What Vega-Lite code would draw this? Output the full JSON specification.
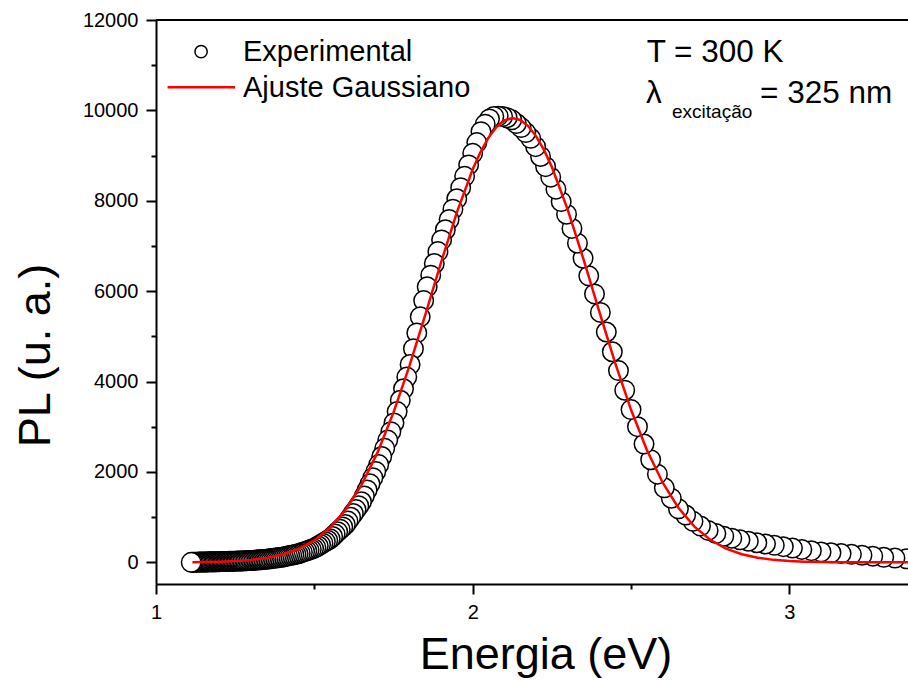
{
  "$schema": "https://vega.github.io/schema/vega-lite/v6.json",
  "autosize": "none",
  "width": 752,
  "height": 564,
  "padding": {"left": 156, "top": 20, "right": 0, "bottom": 97},
  "background": "white",
  "config": {
    "view": {"stroke": null},
    "font": "Liberation Sans",
    "axis": {
      "grid": false,
      "domainColor": "black",
      "domainWidth": 2,
      "tickColor": "black",
      "tickWidth": 2,
      "labelColor": "black",
      "labelFont": "Liberation Sans",
      "labelFontSize": 20,
      "titleColor": "black",
      "titleFont": "Liberation Sans",
      "titleFontWeight": "normal",
      "titleFontSize": 45
    }
  },
  "datasets": {
    "experimental": [
      {"E": 3.4066, "PL": 62}, {"E": 3.3696, "PL": 77}, {"E": 3.3333, "PL": 93}, {"E": 3.2979, "PL": 111},
      {"E": 3.2632, "PL": 136}, {"E": 3.2292, "PL": 157}, {"E": 3.1959, "PL": 177}, {"E": 3.1633, "PL": 193},
      {"E": 3.1313, "PL": 211}, {"E": 3.1000, "PL": 230}, {"E": 3.0693, "PL": 258}, {"E": 3.0392, "PL": 286},
      {"E": 3.0097, "PL": 315}, {"E": 2.9808, "PL": 346}, {"E": 2.9524, "PL": 377}, {"E": 2.9245, "PL": 405},
      {"E": 2.8972, "PL": 433}, {"E": 2.8704, "PL": 466}, {"E": 2.8440, "PL": 498}, {"E": 2.8182, "PL": 535},
      {"E": 2.7928, "PL": 577}, {"E": 2.7679, "PL": 637}, {"E": 2.7434, "PL": 706}, {"E": 2.7193, "PL": 803},
      {"E": 2.6957, "PL": 906}, {"E": 2.6724, "PL": 1046}, {"E": 2.6496, "PL": 1184}, {"E": 2.6271, "PL": 1418},
      {"E": 2.6050, "PL": 1648}, {"E": 2.5833, "PL": 1951}, {"E": 2.5620, "PL": 2270}, {"E": 2.5410, "PL": 2617},
      {"E": 2.5203, "PL": 3002}, {"E": 2.5000, "PL": 3380}, {"E": 2.4800, "PL": 3808}, {"E": 2.4603, "PL": 4242},
      {"E": 2.4409, "PL": 4659}, {"E": 2.4219, "PL": 5096}, {"E": 2.4031, "PL": 5529}, {"E": 2.3846, "PL": 5939},
      {"E": 2.3664, "PL": 6339}, {"E": 2.3485, "PL": 6728}, {"E": 2.3308, "PL": 7061}, {"E": 2.3134, "PL": 7388},
      {"E": 2.2963, "PL": 7702}, {"E": 2.2794, "PL": 7981}, {"E": 2.2628, "PL": 8257}, {"E": 2.2464, "PL": 8522},
      {"E": 2.2302, "PL": 8754}, {"E": 2.2143, "PL": 8980}, {"E": 2.1986, "PL": 9197}, {"E": 2.1831, "PL": 9383},
      {"E": 2.1678, "PL": 9509}, {"E": 2.1528, "PL": 9619}, {"E": 2.1379, "PL": 9709}, {"E": 2.1233, "PL": 9791},
      {"E": 2.1088, "PL": 9838}, {"E": 2.0946, "PL": 9864}, {"E": 2.0805, "PL": 9873}, {"E": 2.0667, "PL": 9867},
      {"E": 2.0530, "PL": 9812}, {"E": 2.0395, "PL": 9695}, {"E": 2.0261, "PL": 9529}, {"E": 2.0130, "PL": 9288},
      {"E": 2.0000, "PL": 9050}, {"E": 1.9872, "PL": 8794}, {"E": 1.9745, "PL": 8540}, {"E": 1.9620, "PL": 8290},
      {"E": 1.9497, "PL": 8044}, {"E": 1.9375, "PL": 7813}, {"E": 1.9255, "PL": 7585}, {"E": 1.9136, "PL": 7358},
      {"E": 1.9018, "PL": 7134}, {"E": 1.8902, "PL": 6875}, {"E": 1.8788, "PL": 6612}, {"E": 1.8675, "PL": 6353},
      {"E": 1.8563, "PL": 6095}, {"E": 1.8452, "PL": 5792}, {"E": 1.8343, "PL": 5432}, {"E": 1.8235, "PL": 5076},
      {"E": 1.8129, "PL": 4726}, {"E": 1.8023, "PL": 4376}, {"E": 1.7919, "PL": 4098}, {"E": 1.7816, "PL": 3840},
      {"E": 1.7714, "PL": 3585}, {"E": 1.7614, "PL": 3335}, {"E": 1.7514, "PL": 3085}, {"E": 1.7416, "PL": 2890},
      {"E": 1.7318, "PL": 2704}, {"E": 1.7222, "PL": 2522}, {"E": 1.7127, "PL": 2341}, {"E": 1.7033, "PL": 2163},
      {"E": 1.6940, "PL": 2010}, {"E": 1.6848, "PL": 1872}, {"E": 1.6757, "PL": 1736}, {"E": 1.6667, "PL": 1601},
      {"E": 1.6578, "PL": 1467}, {"E": 1.6489, "PL": 1339}, {"E": 1.6402, "PL": 1252}, {"E": 1.6316, "PL": 1166},
      {"E": 1.6230, "PL": 1080}, {"E": 1.6146, "PL": 996}, {"E": 1.6062, "PL": 912}, {"E": 1.5979, "PL": 836},
      {"E": 1.5897, "PL": 782}, {"E": 1.5816, "PL": 729}, {"E": 1.5736, "PL": 678}, {"E": 1.5657, "PL": 624},
      {"E": 1.5578, "PL": 571}, {"E": 1.5500, "PL": 520}, {"E": 1.5423, "PL": 488}, {"E": 1.5347, "PL": 456},
      {"E": 1.5271, "PL": 424}, {"E": 1.5196, "PL": 392}, {"E": 1.5122, "PL": 361}, {"E": 1.5049, "PL": 331},
      {"E": 1.4976, "PL": 304}, {"E": 1.4904, "PL": 287}, {"E": 1.4833, "PL": 270}, {"E": 1.4762, "PL": 253},
      {"E": 1.4692, "PL": 236}, {"E": 1.4623, "PL": 220}, {"E": 1.4554, "PL": 203}, {"E": 1.4486, "PL": 188},
      {"E": 1.4419, "PL": 178}, {"E": 1.4352, "PL": 168}, {"E": 1.4286, "PL": 158}, {"E": 1.4220, "PL": 148},
      {"E": 1.4155, "PL": 138}, {"E": 1.4091, "PL": 129}, {"E": 1.4027, "PL": 119}, {"E": 1.3964, "PL": 111},
      {"E": 1.3901, "PL": 105}, {"E": 1.3839, "PL": 100}, {"E": 1.3778, "PL": 94}, {"E": 1.3717, "PL": 88},
      {"E": 1.3656, "PL": 83}, {"E": 1.3596, "PL": 77}, {"E": 1.3537, "PL": 71}, {"E": 1.3478, "PL": 67},
      {"E": 1.3420, "PL": 64}, {"E": 1.3362, "PL": 60}, {"E": 1.3305, "PL": 57}, {"E": 1.3248, "PL": 54},
      {"E": 1.3191, "PL": 51}, {"E": 1.3136, "PL": 48}, {"E": 1.3080, "PL": 44}, {"E": 1.3025, "PL": 41},
      {"E": 1.2971, "PL": 39}, {"E": 1.2917, "PL": 38}, {"E": 1.2863, "PL": 36}, {"E": 1.2810, "PL": 34},
      {"E": 1.2757, "PL": 33}, {"E": 1.2705, "PL": 31}, {"E": 1.2653, "PL": 30}, {"E": 1.2602, "PL": 28},
      {"E": 1.2551, "PL": 27}, {"E": 1.2500, "PL": 25}, {"E": 1.2450, "PL": 24}, {"E": 1.2400, "PL": 23},
      {"E": 1.2351, "PL": 22}, {"E": 1.2302, "PL": 21}, {"E": 1.2253, "PL": 20}, {"E": 1.2205, "PL": 19},
      {"E": 1.2157, "PL": 18}, {"E": 1.2109, "PL": 17}, {"E": 1.2062, "PL": 16}, {"E": 1.2016, "PL": 15},
      {"E": 1.1969, "PL": 15}, {"E": 1.1923, "PL": 14}, {"E": 1.1877, "PL": 13}, {"E": 1.1832, "PL": 13},
      {"E": 1.1787, "PL": 12}, {"E": 1.1742, "PL": 11}, {"E": 1.1698, "PL": 11}, {"E": 1.1654, "PL": 10},
      {"E": 1.1610, "PL": 9}, {"E": 1.1567, "PL": 9}, {"E": 1.1524, "PL": 8}, {"E": 1.1481, "PL": 8},
      {"E": 1.1439, "PL": 7}, {"E": 1.1397, "PL": 6}, {"E": 1.1355, "PL": 5}, {"E": 1.1314, "PL": 4},
      {"E": 1.1273, "PL": 3}, {"E": 1.1232, "PL": 3}, {"E": 1.1191, "PL": 2}, {"E": 1.1151, "PL": 1},
      {"E": 1.1111, "PL": 0}
    ],
    "gaussian_fit": [
      {"E": 1.115, "PL": 4}, {"E": 1.15, "PL": 7}, {"E": 1.20, "PL": 14}, {"E": 1.25, "PL": 27},
      {"E": 1.30, "PL": 52}, {"E": 1.35, "PL": 97}, {"E": 1.40, "PL": 172}, {"E": 1.45, "PL": 294},
      {"E": 1.50, "PL": 485}, {"E": 1.55, "PL": 769}, {"E": 1.60, "PL": 1174}, {"E": 1.65, "PL": 1724},
      {"E": 1.70, "PL": 2438}, {"E": 1.75, "PL": 3317}, {"E": 1.80, "PL": 4342}, {"E": 1.85, "PL": 5471},
      {"E": 1.90, "PL": 6634}, {"E": 1.95, "PL": 7742}, {"E": 2.00, "PL": 8696}, {"E": 2.025, "PL": 9084},
      {"E": 2.05, "PL": 9398}, {"E": 2.075, "PL": 9632}, {"E": 2.10, "PL": 9777}, {"E": 2.125, "PL": 9830},
      {"E": 2.15, "PL": 9789}, {"E": 2.175, "PL": 9654}, {"E": 2.20, "PL": 9431}, {"E": 2.225, "PL": 9125},
      {"E": 2.25, "PL": 8746}, {"E": 2.30, "PL": 7805}, {"E": 2.35, "PL": 6703}, {"E": 2.40, "PL": 5540},
      {"E": 2.45, "PL": 4407}, {"E": 2.50, "PL": 3374}, {"E": 2.55, "PL": 2486}, {"E": 2.60, "PL": 1762},
      {"E": 2.65, "PL": 1203}, {"E": 2.70, "PL": 790}, {"E": 2.75, "PL": 499}, {"E": 2.80, "PL": 304},
      {"E": 2.85, "PL": 178}, {"E": 2.90, "PL": 100}, {"E": 2.95, "PL": 54}, {"E": 3.00, "PL": 28},
      {"E": 3.05, "PL": 14}, {"E": 3.10, "PL": 7}, {"E": 3.15, "PL": 3}, {"E": 3.20, "PL": 1},
      {"E": 3.25, "PL": 1}, {"E": 3.30, "PL": 0}, {"E": 3.35, "PL": 0}, {"E": 3.40, "PL": 0}
    ]
  },
  "layer": [
    {
      "data": {"name": "experimental"},
      "mark": {"type": "point", "shape": "circle", "filled": true, "fill": "white", "stroke": "black", "strokeWidth": 1.5, "size": 380, "opacity": 1, "clip": true},
      "encoding": {
        "x": {
          "field": "E", "type": "quantitative",
          "scale": {"domain": [1, 3.3745], "nice": false, "zero": false},
          "axis": {
            "title": "Energia (eV)",
            "values": [1, 1.5, 2, 2.5, 3],
            "labelExpr": "datum.value % 1 === 0 ? format(datum.value, 'd') : ''",
            "labelFlush": false,
            "labelPadding": 8,
            "tickSize": {"condition": {"test": "datum.value % 1 === 0", "value": 10}, "value": 5},
            "titleX": 389.5,
            "titleY": 84,
            "titleBaseline": "alphabetic"
          }
        },
        "y": {
          "field": "PL", "type": "quantitative",
          "scale": {"domain": [-480, 12000], "nice": false, "zero": false},
          "axis": {
            "title": "PL (u. a.)",
            "values": [0, 1000, 2000, 3000, 4000, 5000, 6000, 7000, 8000, 9000, 10000, 11000, 12000],
            "labelExpr": "datum.value % 2000 === 0 ? format(datum.value, 'd') : ''",
            "labelFlush": false,
            "labelPadding": 8,
            "tickSize": {"condition": {"test": "datum.value % 2000 === 0", "value": 10}, "value": 5},
            "titleX": -107,
            "titleY": 335,
            "titleBaseline": "alphabetic"
          }
        }
      }
    },
    {
      "data": {"name": "gaussian_fit"},
      "mark": {"type": "line", "color": "#ff0000", "strokeWidth": 2.5, "clip": true},
      "encoding": {
        "x": {"field": "E", "type": "quantitative"},
        "y": {"field": "PL", "type": "quantitative"}
      }
    },
    {
      "data": {"values": [{"PL": 12000}]},
      "mark": {"type": "rule", "color": "black", "strokeWidth": 2},
      "encoding": {"y": {"field": "PL", "type": "quantitative"}}
    },
    {
      "data": {"values": [{"E": 1.1424, "PL": 11300}]},
      "mark": {"type": "point", "shape": "circle", "filled": true, "fill": "white", "stroke": "black", "strokeWidth": 1.5, "size": 150, "opacity": 1},
      "encoding": {
        "x": {"field": "E", "type": "quantitative"},
        "y": {"field": "PL", "type": "quantitative"}
      }
    },
    {
      "data": {"values": [{"E1": 1.0366, "E2": 1.2497, "PL": 10512}]},
      "mark": {"type": "rule", "color": "#ff0000", "strokeWidth": 2.5},
      "encoding": {
        "x": {"field": "E1", "type": "quantitative"},
        "x2": {"field": "E2"},
        "y": {"field": "PL", "type": "quantitative"}
      }
    },
    {
      "data": {"values": [
        {"E": 1.2747, "PL": 11093, "label": "Experimental"},
        {"E": 1.2747, "PL": 10297, "label": "Ajuste Gaussiano"}
      ]},
      "mark": {"type": "text", "align": "left", "baseline": "alphabetic", "fontSize": 29, "font": "Liberation Sans", "color": "black"},
      "encoding": {
        "x": {"field": "E", "type": "quantitative"},
        "y": {"field": "PL", "type": "quantitative"},
        "text": {"field": "label"}
      }
    },
    {
      "data": {"values": [
        {"E": 2.5494, "PL": 11072, "label": "T = 300 K"},
        {"E": 2.5470, "PL": 10164, "label": "λ"},
        {"E": 2.9072, "PL": 10164, "label": "= 325 nm"}
      ]},
      "mark": {"type": "text", "align": "left", "baseline": "alphabetic", "fontSize": 31.5, "font": "Liberation Sans", "color": "black"},
      "encoding": {
        "x": {"field": "E", "type": "quantitative"},
        "y": {"field": "PL", "type": "quantitative"},
        "text": {"field": "label"}
      }
    },
    {
      "data": {"values": [{"E": 2.6293, "PL": 9832, "label": "excitação"}]},
      "mark": {"type": "text", "align": "left", "baseline": "alphabetic", "fontSize": 19, "font": "Liberation Sans", "color": "black"},
      "encoding": {
        "x": {"field": "E", "type": "quantitative"},
        "y": {"field": "PL", "type": "quantitative"},
        "text": {"field": "label"}
      }
    }
  ]
}
